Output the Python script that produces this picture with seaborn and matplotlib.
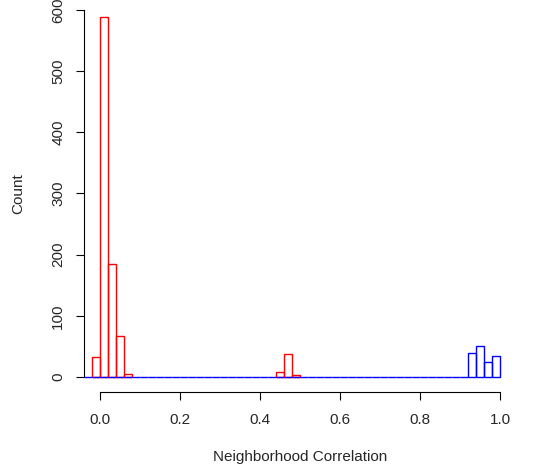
import numpy as np
import pandas as pd
import matplotlib
matplotlib.use("Agg")
import matplotlib.pyplot as plt
import seaborn as sns

# Histogram data (bin centers of non-empty bins and their counts), bin width 0.02
red_centers = [-0.01, 0.01, 0.03, 0.05, 0.07, 0.45, 0.47, 0.49]
red_counts = [33, 589, 185, 67, 5, 9, 37, 4]
blue_centers = [0.93, 0.95, 0.97, 0.99]
blue_counts = [39, 51, 25, 34]

x_ticks = [0.0, 0.2, 0.4, 0.6, 0.8, 1.0]
x_tick_labels = ["0.0", "0.2", "0.4", "0.6", "0.8", "1.0"]
y_ticks = [0, 100, 200, 300, 400, 500, 600]
x_label = "Neighborhood Correlation"
y_label = "Count"

red_edges = [float(v) for v in np.round(np.arange(-0.04, 0.5001, 0.02), 4)]
blue_edges = [float(v) for v in np.round(np.arange(-0.04, 1.0001, 0.02), 4)]

sns.set_style("white")
plt.rcParams["font.family"] = ["Liberation Sans", "DejaVu Sans"]

W, H = 536, 472
fig = plt.figure(figsize=(W / 100, H / 100), dpi=100)
ax_left, ax_right, ax_top, ax_bottom = 84.3, 516.0, -4.7, 391.7
ax = fig.add_axes([ax_left / W, (H - ax_bottom) / H,
                   (ax_right - ax_left) / W, (ax_bottom - ax_top) / H])

red_df = pd.DataFrame({"x": red_centers, "w": red_counts})
blue_df = pd.DataFrame({"x": blue_centers, "w": blue_counts})

sns.histplot(data=red_df, x="x", weights="w", bins=red_edges, fill=False,
             element="bars", color="#FF0000", linewidth=1.0, ax=ax)
n_red = len(ax.patches)
sns.histplot(data=blue_df, x="x", weights="w", bins=blue_edges, fill=False,
             element="bars", color="#0000FF", linewidth=1.0, ax=ax)
for i, p in enumerate(ax.patches):
    if i < n_red:
        p.set_zorder(2)
        if p.get_height() == 0:
            p.set_visible(False)
    else:
        p.set_zorder(3)

ax.set_xlim(-0.04, 1.04)
ax.set_ylim(-24, 624)

for s in ["top", "right"]:
    ax.spines[s].set_visible(False)
ax.spines["bottom"].set_bounds(0, 1)
ax.spines["left"].set_bounds(0, 600)
for s in ["bottom", "left"]:
    ax.spines[s].set_color("black")
    ax.spines[s].set_linewidth(0.8)

fs = 11
ax.set_xticks(x_ticks)
ax.set_xticklabels(x_tick_labels, fontsize=fs)
ax.set_yticks(y_ticks)
ax.set_yticklabels([str(v) for v in y_ticks], fontsize=fs, rotation=90)
ax.tick_params(axis="both", direction="out", length=6.1, width=0.8, color="black",
               bottom=True, left=True)
ax.tick_params(axis="x", pad=14)
ax.tick_params(axis="y", pad=12.7)
for lbl in ax.get_xticklabels():
    lbl.set_va("center")
for lbl in ax.get_yticklabels():
    lbl.set_ha("center")
    lbl.set_va("center")

ax.set_xlabel(x_label, fontsize=fs)
ax.set_ylabel(y_label, fontsize=fs)
ax.xaxis.set_label_coords(0.5, (ax_bottom - 457) / (ax_bottom - ax_top))
ax.xaxis.label.set_va("center")
ax.yaxis.set_label_coords((18 - ax_left) / (ax_right - ax_left), 0.5)
ax.yaxis.label.set_va("center")
ax.grid(False)

fig.savefig("out.png", dpi=100)
